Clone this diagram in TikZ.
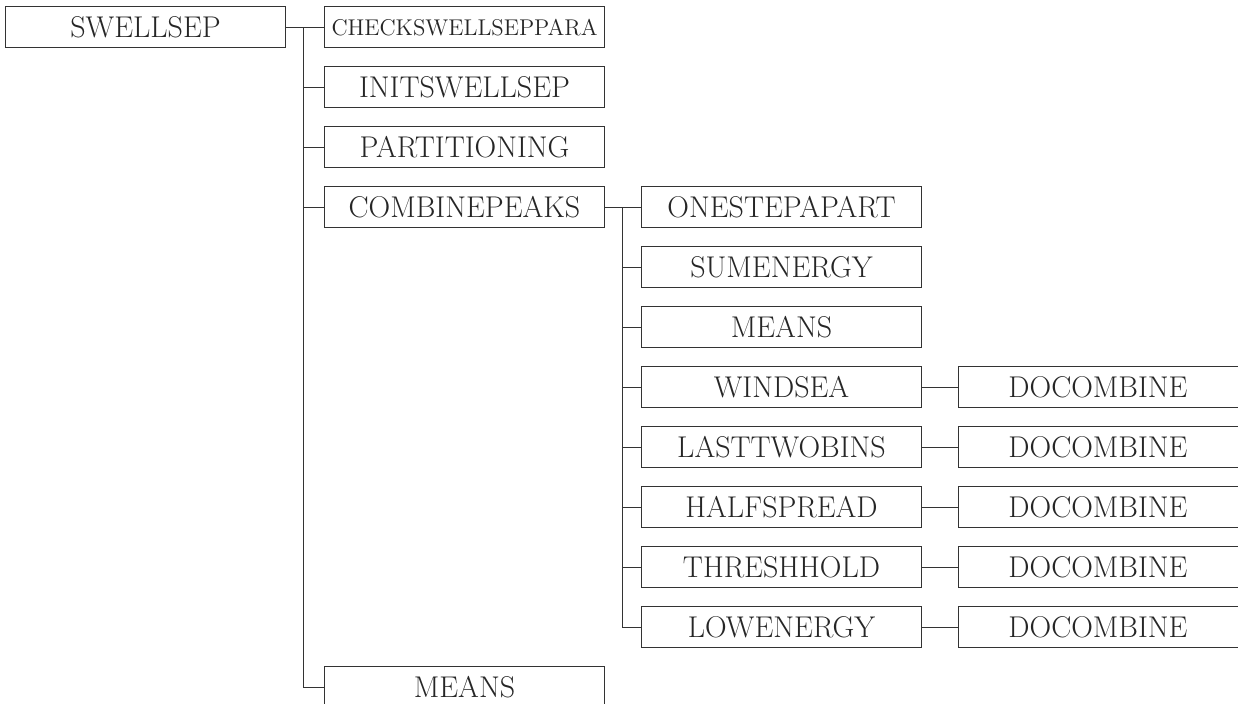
\documentclass[tikz,border=0pt]{standalone}
\usepackage{fontspec}
\begin{document}
\begin{tikzpicture}[x=0.5pt,y=-0.5pt,
		khung/.style={draw=black!80,line width=0.5pt,minimum width=140pt,minimum height=20.5pt,inner sep=0pt,text=black!85,font=\fontsize{15}{17}\selectfont},
		noi/.style={draw=black!80,line width=0.5pt}]
	\useasboundingbox (0,0) rectangle (1238,704);
	%Gốc
	\node[khung] (swellsep) at (145.5,27.5) {SWELLSEP};
	%Cấp 1
	\node[khung,font=\fontsize{11.4}{13}\selectfont] (checkpara) at (464.5,27.5) {CHECKSWELLSEPPARA};
	\node[khung] (initsep) at (464.5,87.5) {INITSWELLSEP};
	\node[khung] (partition) at (464.5,147.5) {PARTITIONING};
	\node[khung] (combine) at (464.5,207.5) {COMBINEPEAKS};
	\node[khung] (means1) at (464.5,687.5) {MEANS};
	%Cấp 2
	\node[khung] (onestep) at (781.5,207.5) {ONESTEPAPART};
	\node[khung] (sumenergy) at (781.5,267.5) {SUMENERGY};
	\node[khung] (means2) at (781.5,327.5) {MEANS};
	\node[khung] (windsea) at (781.5,387.5) {WINDSEA};
	\node[khung] (lasttwo) at (781.5,447.5) {LASTTWOBINS};
	\node[khung] (halfspread) at (781.5,507.5) {HALFSPREAD};
	\node[khung] (thresh) at (781.5,567.5) {THRESHHOLD};
	\node[khung] (lowenergy) at (781.5,627.5) {LOWENERGY};
	%Cấp 3
	\foreach \ten/\y in {windsea/387.5,lasttwo/447.5,halfspread/507.5,thresh/567.5,lowenergy/627.5}{
		\node[khung] (do\ten) at (1098,\y) {DOCOMBINE};
		\draw[noi] (\ten.east) -- (do\ten.west);
	}
	%---------nhánh 1
	\coordinate (tru1) at (303,27.5);
	\draw[noi] (swellsep.east) -- (checkpara.west);
	\draw[noi] (tru1) |- (means1.west);
	\foreach \con in {initsep,partition,combine}
		\draw[noi] (tru1 |- \con.west) -- (\con.west);
	%---------nhánh 2
	\coordinate (tru2) at (622,207.5);
	\draw[noi] (combine.east) -- (onestep.west);
	\draw[noi] (tru2) |- (lowenergy.west);
	\foreach \con in {sumenergy,means2,windsea,lasttwo,halfspread,thresh}
		\draw[noi] (tru2 |- \con.west) -- (\con.west);
\end{tikzpicture}
\end{document}
